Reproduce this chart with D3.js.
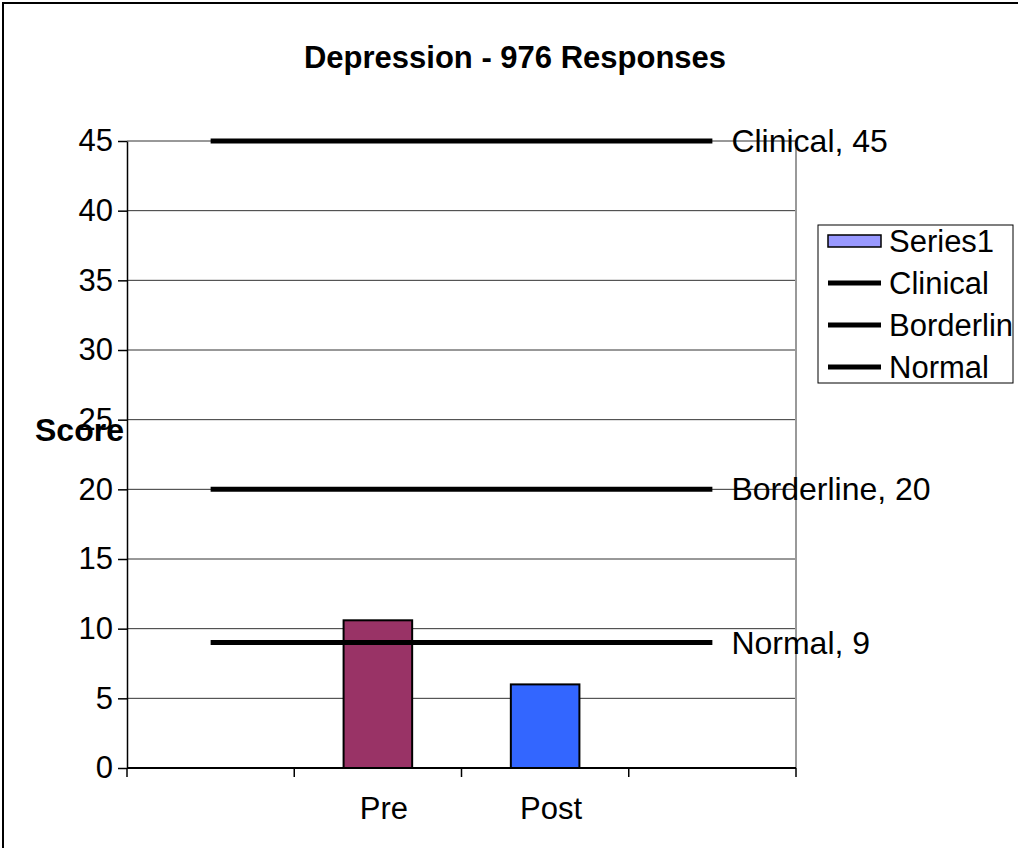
<!DOCTYPE html>
<html>
<head>
<meta charset="utf-8">
<script src="https://cdn.jsdelivr.net/npm/d3@7"></script>
<style>
  body { margin: 0; background: #fff; }
  text { font-family: "Liberation Sans", Arial, sans-serif; }
</style>
</head>
<body>
<div id="vis"></div>
<script>
// chart data
const CATEGORIES = ["", "Pre", "Post", ""];
const SERIES1 = [null, 10.6, 6.0, null];
const BAR_COLORS = ["#993366", "#993366", "#3366FF", "#3366FF"];
const REF_NAMES = ["Clinical", "Borderline", "Normal"];
const REF_VALUES = [45, 20, 9];
const LEGEND_NAMES = ["Series1", "Clinical", "Borderlin", "Normal"];
const Y_TICKS = [0, 5, 10, 15, 20, 25, 30, 35, 40, 45];

const FRAME_WIDTH = 1018;
const FRAME_HEIGHT = 848;
const PLOT = {left: 127, right: 796, top: 141, bottom: 768};
const FONT = "31px";

const FRAME = d3.select("#vis")
                .append("svg")
                  .attr("width", FRAME_WIDTH)
                  .attr("height", FRAME_HEIGHT);

// outer chart border (runs off the right and bottom)
FRAME.append("rect")
      .attr("x", 3).attr("y", 3)
      .attr("width", FRAME_WIDTH + 20).attr("height", FRAME_HEIGHT + 20)
      .attr("fill", "none").attr("stroke", "#000").attr("stroke-width", 2);

const X_SCALE = d3.scaleBand()
                  .domain(d3.range(CATEGORIES.length))
                  .range([PLOT.left, PLOT.right])
                  .padding(0);

const Y_SCALE = d3.scaleLinear()
                  .domain([0, 45])
                  .range([PLOT.bottom, PLOT.top]);

// gridlines
FRAME.selectAll(".grid")
      .data(Y_TICKS.slice(1))
      .enter()
      .append("line")
        .attr("x1", PLOT.left).attr("x2", PLOT.right)
        .attr("y1", (d) => Y_SCALE(d)).attr("y2", (d) => Y_SCALE(d))
        .attr("stroke", "#333").attr("stroke-width", 1);

// right side of plot area
FRAME.append("line")
      .attr("x1", PLOT.right).attr("x2", PLOT.right)
      .attr("y1", PLOT.top).attr("y2", PLOT.bottom)
      .attr("stroke", "#999").attr("stroke-width", 2);

// bars
const barW = X_SCALE.bandwidth() * 0.41;
FRAME.selectAll(".bar")
      .data(SERIES1.map((v, i) => ({v: v, i: i})).filter((d) => d.v !== null))
      .enter()
      .append("rect")
        .attr("x", (d) => X_SCALE(d.i) + (X_SCALE.bandwidth() - barW) / 2)
        .attr("y", (d) => Y_SCALE(d.v))
        .attr("width", barW)
        .attr("height", (d) => Y_SCALE(0) - Y_SCALE(d.v))
        .attr("fill", (d) => BAR_COLORS[d.i])
        .attr("stroke", "#000").attr("stroke-width", 2);

// y axis
const yAxis = FRAME.append("g")
      .attr("transform", "translate(" + PLOT.left + ",0)")
      .call(d3.axisLeft(Y_SCALE).tickValues(Y_TICKS).tickSize(9).tickSizeOuter(0).tickPadding(5));
yAxis.selectAll("text").attr("font-size", FONT).attr("fill", "#000")
      .attr("font-family", "Liberation Sans, Arial, sans-serif");
yAxis.selectAll("line, path").attr("stroke", "#000").attr("stroke-width", 1.5);

// x axis: ticks on category boundaries, labels at centres
const xg = FRAME.append("g");
xg.append("line")
    .attr("x1", PLOT.left).attr("x2", PLOT.right)
    .attr("y1", PLOT.bottom).attr("y2", PLOT.bottom)
    .attr("stroke", "#000").attr("stroke-width", 2);
xg.selectAll(".xtick")
    .data(d3.range(CATEGORIES.length + 1))
    .enter()
    .append("line")
      .attr("x1", (i) => i < CATEGORIES.length ? X_SCALE(i) : PLOT.right)
      .attr("x2", (i) => i < CATEGORIES.length ? X_SCALE(i) : PLOT.right)
      .attr("y1", PLOT.bottom).attr("y2", PLOT.bottom + 9)
      .attr("stroke", "#000").attr("stroke-width", 1.5);
xg.selectAll(".xlabel")
    .data(CATEGORIES)
    .enter()
    .append("text")
      .attr("x", (d, i) => X_SCALE(i) + X_SCALE.bandwidth() / 2 + 6)
      .attr("y", 819)
      .attr("text-anchor", "middle")
      .attr("font-size", FONT)
      .text((d) => d);

// reference lines and their labels
const refLine = d3.line()
                  .x((d, i) => X_SCALE(i) + X_SCALE.bandwidth() / 2)
                  .y((d) => Y_SCALE(d));
REF_VALUES.forEach((v, k) => {
  const vals = CATEGORIES.map(() => v);
  FRAME.append("path")
        .attr("d", refLine(vals))
        .attr("fill", "none").attr("stroke", "#000").attr("stroke-width", 5);
  FRAME.append("text")
        .attr("x", X_SCALE(CATEGORIES.length - 1) + X_SCALE.bandwidth() / 2 + 19)
        .attr("y", Y_SCALE(v) + 11)
        .attr("font-size", "32px")
        .text(REF_NAMES[k] + ", " + v);
});

// axis title
FRAME.append("text")
      .attr("x", 35).attr("y", 441)
      .attr("font-size", "32px").attr("font-weight", "bold")
      .text("Score");

// chart title
FRAME.append("text")
      .attr("x", 515).attr("y", 68)
      .attr("text-anchor", "middle")
      .attr("font-size", "31px").attr("font-weight", "bold")
      .text("Depression - 976 Responses");

// legend
const LEG = FRAME.append("g").attr("transform", "translate(818,225)");
LEG.append("rect")
    .attr("width", 195).attr("height", 158)
    .attr("fill", "#fff").attr("stroke", "#000").attr("stroke-width", 1);
LEGEND_NAMES.forEach((name, i) => {
  const cy = 16 + i * 42;
  if (i === 0) {
    LEG.append("rect")
        .attr("x", 10).attr("y", cy - 6).attr("width", 53).attr("height", 12)
        .attr("fill", "#9999FF").attr("stroke", "#000").attr("stroke-width", 1.5);
  } else {
    LEG.append("line")
        .attr("x1", 10).attr("x2", 63).attr("y1", cy).attr("y2", cy)
        .attr("stroke", "#000").attr("stroke-width", 5);
  }
  LEG.append("text")
      .attr("x", 71).attr("y", cy + 11)
      .attr("font-size", FONT)
      .text(name);
});
</script>
</body>
</html>
